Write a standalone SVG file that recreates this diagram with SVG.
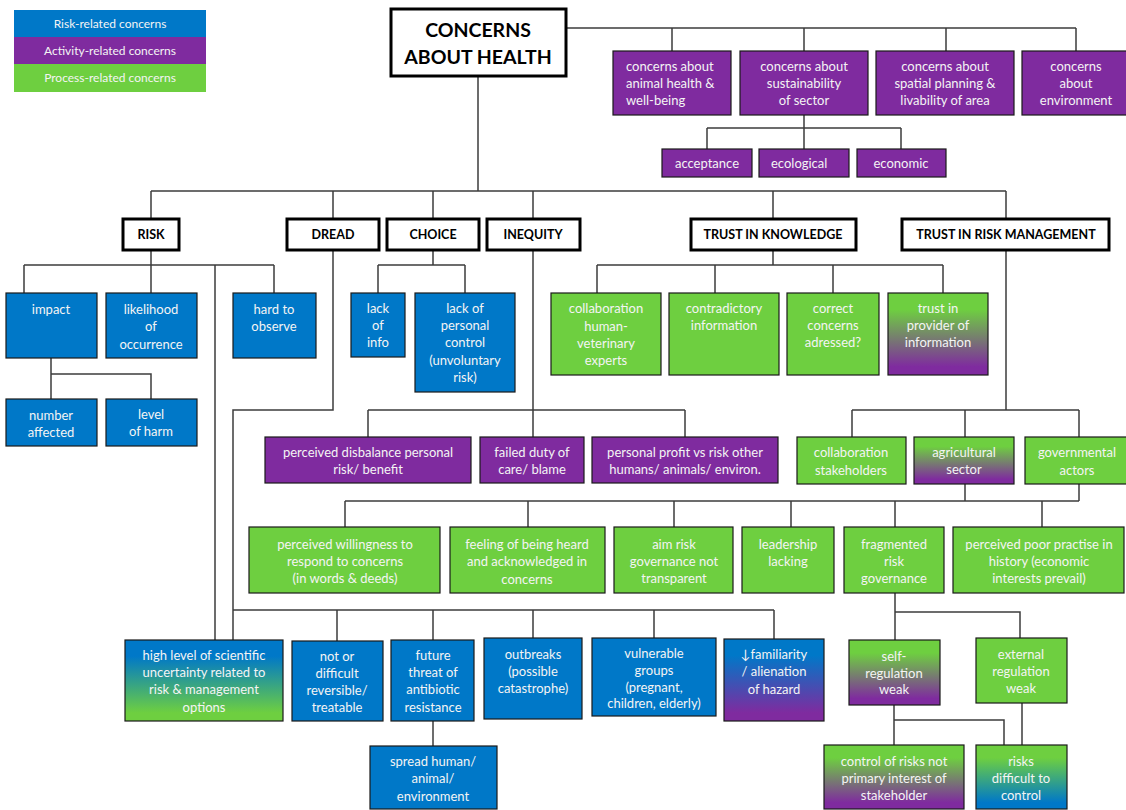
<svg xmlns="http://www.w3.org/2000/svg" width="1126" height="810" viewBox="0 0 1126 810">
<style>
.b{fill:#0078C8;stroke:#1a1a1a;stroke-width:1.2}
.p{fill:#7F2B9F;stroke:#1a1a1a;stroke-width:1.2}
.g{fill:#6ECF40;stroke:#1a1a1a;stroke-width:1.2}
.w{fill:#fff;stroke:#000;stroke-width:3}
.t{font-family:Lato,"Liberation Sans",sans-serif;font-size:13px;fill:#f4f4f4;text-anchor:middle}
.l{text-anchor:start}
.h{font-family:Lato,"Liberation Sans",sans-serif;font-size:12.5px;font-weight:bold;fill:#000;text-anchor:middle}
.m{font-family:Lato,"Liberation Sans",sans-serif;font-size:19.5px;font-weight:bold;fill:#000;text-anchor:middle}
.lg{font-family:Lato,"Liberation Sans",sans-serif;font-size:12px;fill:#f4f4f4;text-anchor:middle}
.c path{fill:none;stroke:#3c3c3c;stroke-width:1.5}
</style>
<defs>
<linearGradient id="bg" x1="0" y1="0" x2="0" y2="1"><stop offset="0.2" stop-color="#0078C8"/><stop offset="0.9" stop-color="#6ECF40"/></linearGradient>
<linearGradient id="gp" x1="0" y1="0" x2="0" y2="1"><stop offset="0.2" stop-color="#6ECF40"/><stop offset="0.9" stop-color="#7F2B9F"/></linearGradient>
<linearGradient id="bp" x1="0" y1="0" x2="0" y2="1"><stop offset="0.2" stop-color="#0078C8"/><stop offset="0.9" stop-color="#7F2B9F"/></linearGradient>
<linearGradient id="gb" x1="0" y1="0" x2="0" y2="1"><stop offset="0.2" stop-color="#6ECF40"/><stop offset="0.9" stop-color="#0078C8"/></linearGradient>
</defs>
<rect width="1126" height="810" fill="#fff"/>

<g id="legend">
<rect x="14" y="10" width="192" height="27" fill="#0078C8"/>
<rect x="14" y="37" width="192" height="27" fill="#7F2B9F"/>
<rect x="14" y="64" width="192" height="28" fill="#6ECF40"/>
<text class="lg" x="110" y="27.5">Risk-related concerns</text>
<text class="lg" x="110" y="54.5">Activity-related concerns</text>
<text class="lg" x="110" y="82">Process-related concerns</text>
</g>

<g class="c" id="connectors">
<path d="M566,28H1076M672,28V51M804,28V51M946,28V51M1076,28V51"/>
<path d="M804,115V149M707,128H901M707,128V149M901,128V149"/>
<path d="M478,76V191M151,191H1006M151,191V218M333,191V218M433,191V218M533,191V218M773,191V218M1006,191V218"/>
<path d="M151,250V293M24,265H274M24,265V293M215,265V640M274,265V293"/>
<path d="M51,358V399M51,374H151V399"/>
<path d="M333,250V410H233V640M233,610H774M337,610V641M433,610V640M533,610V638M654,610V638M774,610V639"/>
<path d="M433,721V746"/>
<path d="M433,250V265M378,265H465M378,265V293M465,265V293"/>
<path d="M533,250V437M368,410H685M368,410V437M685,410V437"/>
<path d="M773,250V265M597,265H943M597,265V293M715,265V293M833,265V293M943,265V293"/>
<path d="M1006,250V410M852,410H1079M852,410V437M965,410V437M1079,410V437"/>
<path d="M965,484V501M1079,484V501M345,501H1079M345,501V527M528,501V527M674,501V527M791,501V527M895,501V527M1042,501V527"/>
<path d="M895,593V640M895,612H1020V638"/>
<path d="M894,705V745M894,720H1004V745M1022,703V745"/>
</g>

<g id="main"><rect class="w" x="391" y="9" width="175" height="67"/><text class="m" x="478" y="37">CONCERNS</text><text class="m" x="478" y="64">ABOUT HEALTH</text></g>

<g id="animal"><rect class="p" x="613" y="51" width="118" height="64"/><text class="t l" x="626"><tspan x="626" y="70.5">concerns about</tspan><tspan x="626" y="87.5">animal health &amp;</tspan><tspan x="626" y="104.5">well-being</tspan></text></g>
<g id="sustainability"><rect class="p" x="740" y="51" width="128" height="64"/><text class="t"><tspan x="804" y="70.5">concerns about</tspan><tspan x="804" y="87.5">sustainability</tspan><tspan x="804" y="104.5">of sector</tspan></text></g>
<g id="spatial"><rect class="p" x="876" y="51" width="138" height="64"/><text class="t"><tspan x="945" y="70.5">concerns about</tspan><tspan x="945" y="87.5">spatial planning &amp;</tspan><tspan x="945" y="104.5">livability of area</tspan></text></g>
<g id="environment"><rect class="p" x="1022" y="51" width="108" height="64"/><text class="t"><tspan x="1076" y="70.5">concerns</tspan><tspan x="1076" y="87.5">about</tspan><tspan x="1076" y="104.5">environment</tspan></text></g>
<g id="acceptance"><rect class="p" x="662" y="149" width="90" height="28"/><text class="t" x="707" y="167.5">acceptance</text></g>
<g id="ecological"><rect class="p" x="759" y="149" width="90" height="28"/><text class="t l" x="771" y="167.5">ecological</text></g>
<g id="economic"><rect class="p" x="857" y="149" width="89" height="28"/><text class="t" x="901" y="167.5">economic</text></g>

<g id="risk"><rect class="w" x="123" y="219" width="56" height="31"/><text class="h" x="151" y="239">RISK</text></g>
<g id="dread"><rect class="w" x="287" y="219" width="92" height="31"/><text class="h" x="333" y="239">DREAD</text></g>
<g id="choice"><rect class="w" x="387" y="219" width="92" height="31"/><text class="h" x="433" y="239">CHOICE</text></g>
<g id="inequity"><rect class="w" x="487" y="219" width="93" height="31"/><text class="h" x="533" y="239">INEQUITY</text></g>
<g id="trustknowledge"><rect class="w" x="691" y="219" width="165" height="31"/><text class="h" x="773" y="239">TRUST IN KNOWLEDGE</text></g>
<g id="trustrisk"><rect class="w" x="902" y="219" width="207" height="31"/><text class="h" x="1006" y="239">TRUST IN RISK MANAGEMENT</text></g>

<g id="impact"><rect class="b" x="6" y="293" width="91" height="65"/><text class="t" x="51" y="313.5">impact</text></g>
<g id="likelihood"><rect class="b" x="106" y="293" width="91" height="65"/><text class="t"><tspan x="151" y="313.5">likelihood</tspan><tspan x="151" y="330.5">of</tspan><tspan x="151" y="348.5">occurrence</tspan></text></g>
<g id="hard"><rect class="b" x="233" y="293" width="83" height="65"/><text class="t"><tspan x="274" y="313.5">hard to</tspan><tspan x="274" y="330.5">observe</tspan></text></g>
<g id="number"><rect class="b" x="6" y="399" width="91" height="47"/><text class="t"><tspan x="51" y="419.5">number</tspan><tspan x="51" y="436.5">affected</tspan></text></g>
<g id="level"><rect class="b" x="106" y="399" width="91" height="47"/><text class="t"><tspan x="151" y="418.5">level</tspan><tspan x="151" y="435.5">of harm</tspan></text></g>

<g id="lackinfo"><rect class="b" x="351" y="293" width="54" height="64"/><text class="t"><tspan x="378" y="312.5">lack</tspan><tspan x="378" y="329.5">of</tspan><tspan x="378" y="346.5">info</tspan></text></g>
<g id="lackcontrol"><rect class="b" x="415" y="293" width="100" height="99"/><text class="t"><tspan x="465" y="312.5">lack of</tspan><tspan x="465" y="329.5">personal</tspan><tspan x="465" y="346.5">control</tspan><tspan x="465" y="364.5">(unvoluntary</tspan><tspan x="465" y="381.5">risk)</tspan></text></g>

<g id="collabvet"><rect class="g" x="551" y="293" width="110" height="82"/><text class="t"><tspan x="606" y="312.5">collaboration</tspan><tspan x="606" y="330.5">human-</tspan><tspan x="606" y="347.5">veterinary</tspan><tspan x="606" y="364.5">experts</tspan></text></g>
<g id="contradictory"><rect class="g" x="669" y="293" width="110" height="82"/><text class="t"><tspan x="724" y="312.5">contradictory</tspan><tspan x="724" y="329.5">information</tspan></text></g>
<g id="correct"><rect class="g" x="787" y="293" width="92" height="82"/><text class="t"><tspan x="833" y="312.5">correct</tspan><tspan x="833" y="329.5">concerns</tspan><tspan x="833" y="346.5">adressed?</tspan></text></g>
<g id="provider"><rect x="888" y="293" width="100" height="82" fill="url(#gp)" stroke="#1a1a1a" stroke-width="1.2"/><text class="t"><tspan x="938" y="312.5">trust in</tspan><tspan x="938" y="329.5">provider of</tspan><tspan x="938" y="346.5">information</tspan></text></g>

<g id="disbalance"><rect class="p" x="265" y="437" width="206" height="46"/><text class="t"><tspan x="368" y="456.5">perceived disbalance personal</tspan><tspan x="368" y="473.5">risk/ benefit</tspan></text></g>
<g id="failed"><rect class="p" x="480" y="437" width="104" height="46"/><text class="t"><tspan x="532" y="456.5">failed duty of</tspan><tspan x="532" y="473.5">care/ blame</tspan></text></g>
<g id="profit"><rect class="p" x="592" y="437" width="186" height="46"/><text class="t"><tspan x="685" y="456.5">personal profit vs risk other</tspan><tspan x="685" y="473.5">humans/ animals/ environ.</tspan></text></g>
<g id="collabstake"><rect class="g" x="797" y="437" width="109" height="47"/><text class="t"><tspan x="851" y="456.5">collaboration</tspan><tspan x="851" y="474.5">stakeholders</tspan></text></g>
<g id="agri"><rect x="914" y="437" width="100" height="47" fill="url(#gp)" stroke="#1a1a1a" stroke-width="1.2"/><text class="t"><tspan x="964" y="456.5">agricultural</tspan><tspan x="964" y="473.5">sector</tspan></text></g>
<g id="gov"><rect class="g" x="1025" y="437" width="102" height="47"/><text class="t"><tspan x="1077" y="456.5">governmental</tspan><tspan x="1077" y="474.5">actors</tspan></text></g>

<g id="willingness"><rect class="g" x="249" y="527" width="191" height="66"/><text class="t"><tspan x="345" y="548.5">perceived willingness to</tspan><tspan x="345" y="565.5">respond to concerns</tspan><tspan x="345" y="582.5">(in words &amp; deeds)</tspan></text></g>
<g id="heard"><rect class="g" x="450" y="527" width="155" height="66"/><text class="t"><tspan x="527" y="548.5">feeling of being heard</tspan><tspan x="527" y="565.5">and acknowledged in</tspan><tspan x="527" y="583.5">concerns</tspan></text></g>
<g id="aim"><rect class="g" x="614" y="527" width="119" height="66"/><text class="t"><tspan x="674" y="548.5">aim risk</tspan><tspan x="674" y="565.5">governance not</tspan><tspan x="674" y="582.5">transparent</tspan></text></g>
<g id="leadership"><rect class="g" x="742" y="527" width="92" height="66"/><text class="t"><tspan x="788" y="548.5">leadership</tspan><tspan x="788" y="565.5">lacking</tspan></text></g>
<g id="fragmented"><rect class="g" x="844" y="527" width="100" height="66"/><text class="t"><tspan x="894" y="548.5">fragmented</tspan><tspan x="894" y="565.5">risk</tspan><tspan x="894" y="582.5">governance</tspan></text></g>
<g id="poor"><rect class="g" x="953" y="527" width="171" height="66"/><text class="t"><tspan x="1039" y="548.5">perceived poor practise in</tspan><tspan x="1039" y="565.5">history (economic</tspan><tspan x="1039" y="582.5">interests prevail)</tspan></text></g>

<g id="uncertainty"><rect x="125" y="640" width="158" height="81" fill="url(#bg)" stroke="#1a1a1a" stroke-width="1.2"/><text class="t"><tspan x="204" y="659.5">high level of scientific</tspan><tspan x="204" y="676.5">uncertainty related to</tspan><tspan x="204" y="693.5">risk &amp; management</tspan><tspan x="204" y="711.5">options</tspan></text></g>
<g id="reversible"><rect class="b" x="292" y="641" width="91" height="80"/><text class="t"><tspan x="337" y="660.5">not or</tspan><tspan x="337" y="677.5">difficult</tspan><tspan x="337" y="694.5">reversible/</tspan><tspan x="337" y="711.5">treatable</tspan></text></g>
<g id="antibiotic"><rect class="b" x="391" y="640" width="83" height="81"/><text class="t"><tspan x="433" y="659.5">future</tspan><tspan x="433" y="676.5">threat of</tspan><tspan x="433" y="693.5">antibiotic</tspan><tspan x="433" y="711.5">resistance</tspan></text></g>
<g id="outbreaks"><rect class="b" x="484" y="638" width="98" height="81"/><text class="t"><tspan x="533" y="658.5">outbreaks</tspan><tspan x="533" y="675.5">(possible</tspan><tspan x="533" y="692.5">catastrophe)</tspan></text></g>
<g id="vulnerable"><rect class="b" x="592" y="638" width="124" height="78"/><text class="t"><tspan x="654" y="657.5">vulnerable</tspan><tspan x="654" y="674.5">groups</tspan><tspan x="654" y="691.5">(pregnant,</tspan><tspan x="654" y="707.5">children, elderly)</tspan></text></g>
<g id="familiarity"><rect x="724" y="639" width="100" height="82" fill="url(#bp)" stroke="#1a1a1a" stroke-width="1.2"/><text class="t"><tspan x="774" y="658.5">↓familiarity</tspan><tspan x="774" y="675.5">/ alienation</tspan><tspan x="774" y="693.5">of hazard</tspan></text></g>
<g id="spread"><rect class="b" x="370" y="746" width="127" height="63"/><text class="t"><tspan x="433" y="765.5">spread human/</tspan><tspan x="433" y="782.5">animal/</tspan><tspan x="433" y="800.5">environment</tspan></text></g>
<g id="selfreg"><rect x="849" y="640" width="91" height="65" fill="url(#gp)" stroke="#1a1a1a" stroke-width="1.2"/><text class="t"><tspan x="894" y="660.5">self-</tspan><tspan x="894" y="677.5">regulation</tspan><tspan x="894" y="693.5">weak</tspan></text></g>
<g id="extreg"><rect class="g" x="976" y="638" width="91" height="65"/><text class="t"><tspan x="1021" y="658.5">external</tspan><tspan x="1021" y="675.5">regulation</tspan><tspan x="1021" y="692.5">weak</tspan></text></g>
<g id="controlrisks"><rect x="824" y="745" width="140" height="64" fill="url(#gp)" stroke="#1a1a1a" stroke-width="1.2"/><text class="t"><tspan x="894" y="765.5">control  of risks not</tspan><tspan x="894" y="782.5">primary interest of</tspan><tspan x="894" y="799.5">stakeholder</tspan></text></g>
<g id="difficult"><rect x="976" y="745" width="91" height="64" fill="url(#gb)" stroke="#1a1a1a" stroke-width="1.2"/><text class="t"><tspan x="1021" y="765.5">risks</tspan><tspan x="1021" y="782.5">difficult to</tspan><tspan x="1021" y="799.5">control</tspan></text></g>
</svg>
